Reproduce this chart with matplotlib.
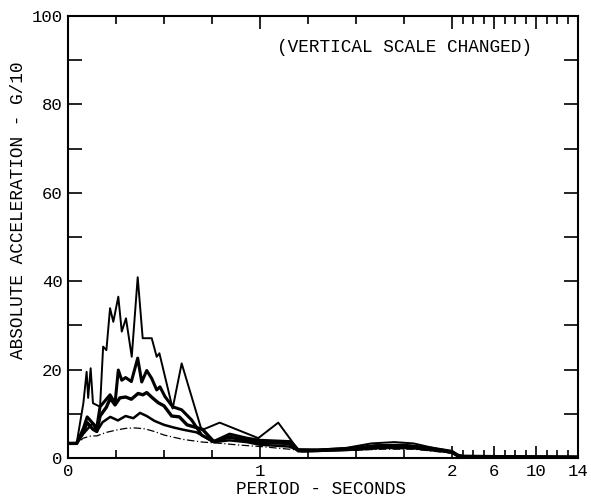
import numpy as np
import matplotlib
matplotlib.use("Agg")
import matplotlib.pyplot as plt
from matplotlib.ticker import FixedLocator, NullFormatter

# ---- data (period in seconds, absolute acceleration in G/10) ----
x_a = [0, 0.045, 0.08, 0.097, 0.105, 0.118, 0.13, 0.167, 0.183, 0.20, 0.219, 0.236, 0.262,
       0.28, 0.302, 0.332, 0.363, 0.389, 0.436, 0.462, 0.476, 0.545, 0.592, 0.696, 0.79,
       0.991, 1.095, 1.196, 1.30, 1.45, 1.58, 1.70, 1.80, 1.92, 2.0, 2.5, 3.0, 4.0, 14.0]
y_a = [3.3, 3.3, 12.4, 19.5, 13.6, 20.3, 12.4, 11.6, 25.2, 24.4, 33.9, 30.8, 36.5,
       28.6, 31.6, 22.9, 40.9, 27.1, 27.1, 22.9, 23.7, 11.2, 21.4, 6.3, 8.0,
       4.5, 8.0, 2.0, 1.9, 2.3, 3.3, 3.6, 3.3, 2.1, 1.5, 0.8, 0.4, 0.2, 0.2]

x_b = [0, 0.045, 0.08, 0.10, 0.13, 0.15, 0.167, 0.219, 0.245, 0.262, 0.28, 0.30, 0.33,
       0.363, 0.384, 0.41, 0.436, 0.462, 0.479, 0.505, 0.545, 0.592, 0.644, 0.696, 0.757,
       0.842, 0.93, 1.0, 1.16, 1.2, 1.3, 1.45, 1.6, 1.75, 1.9, 2.0, 2.5, 3.0, 14.0]
y_b = [3.3, 3.3, 6.7, 9.3, 7.8, 6.9, 11.6, 14.3, 12.4, 19.9, 17.6, 18.2, 17.3,
       22.6, 17.2, 19.8, 18.0, 15.4, 16.1, 13.9, 11.6, 10.9, 8.6, 5.2, 3.7,
       5.4, 4.5, 4.0, 3.7, 1.8, 1.8, 2.1, 2.8, 2.9, 2.2, 1.5, 0.7, 0.3, 0.2]

x_c = [0, 0.045, 0.08, 0.10, 0.13, 0.15, 0.167, 0.20, 0.22, 0.245, 0.27, 0.30, 0.33,
       0.365, 0.39, 0.41, 0.44, 0.47, 0.50, 0.54, 0.58, 0.62, 0.70, 0.76, 0.84, 0.93,
       1.0, 1.15, 1.2, 1.3, 1.5, 1.65, 1.8, 1.95, 2.0, 2.5, 3.0, 14.0]
y_c = [3.3, 3.3, 6.0, 8.0, 6.5, 6.0, 9.5, 11.5, 13.5, 12.0, 13.6, 13.8, 13.3,
       14.6, 14.3, 14.8, 13.6, 12.5, 11.8, 9.5, 9.3, 7.5, 6.5, 3.7, 4.7, 4.0,
       3.5, 3.3, 1.6, 1.7, 2.0, 2.6, 2.6, 1.7, 1.3, 0.6, 0.3, 0.2]

x_d = [0, 0.045, 0.08, 0.10, 0.13, 0.15, 0.18, 0.22, 0.26, 0.30, 0.34, 0.375, 0.41,
       0.45, 0.50, 0.55, 0.60, 0.67, 0.76, 0.84, 0.93, 1.0, 1.15, 1.22, 1.3, 1.5,
       1.65, 1.8, 1.95, 2.0, 2.5, 14.0]
y_d = [3.3, 3.3, 5.5, 6.5, 7.9, 6.0, 8.1, 9.3, 8.5, 9.5, 9.0, 10.2, 9.5,
       8.4, 7.5, 6.9, 6.4, 5.8, 3.6, 4.0, 3.6, 3.0, 2.6, 1.5, 1.6, 1.9,
       2.3, 2.2, 1.5, 1.2, 0.5, 0.2]

x_e = [0, 0.045, 0.08, 0.12, 0.15, 0.20, 0.25, 0.30, 0.35, 0.40, 0.45, 0.50, 0.55,
       0.60, 0.70, 0.80, 0.90, 1.0, 1.1, 1.2, 1.3, 1.5, 1.65, 1.8, 2.0, 2.5, 14.0]
y_e = [3.3, 3.3, 4.5, 5.0, 5.0, 5.8, 6.3, 6.7, 6.8, 6.6, 6.0, 5.2, 4.7,
       4.2, 3.6, 3.3, 2.9, 2.6, 2.2, 1.8, 1.6, 1.8, 2.0, 2.0, 1.1, 0.5, 0.2]

x_major = [0, 1, 2, 6, 10, 14]
x_major_labels = ["0", "1", "2", "6", "10", "14"]
x_minor = [0.25, 0.5, 0.75, 1.25, 1.5, 1.75, 3, 4, 5, 7, 8, 9, 11, 12, 13]
y_major = [0, 20, 40, 60, 80, 100]
y_minor = [10, 30, 50, 70, 90]

# ---- broken-linear period scale: 0-2 s linear, 2-14 s compressed ----
K = 126.0 / 192.0 / 12.0

def fwd(x):
    x = np.asarray(x, dtype=float)
    return np.where(x <= 2, x, 2 + (x - 2) * K)

def inv(u):
    u = np.asarray(u, dtype=float)
    return np.where(u <= 2, u, 2 + (u - 2) / K)

FONT = "Liberation Mono"
plt.rcParams["font.family"] = [FONT, "DejaVu Sans Mono"]

fig = plt.figure(figsize=(5.91, 5.00), dpi=100)
ax = fig.add_axes([68 / 591, 1 - 458 / 500, 510 / 591, 442 / 500])
ax.set_xscale("function", functions=(fwd, inv))
ax.set_xlim(0, 14)
ax.set_ylim(0, 100)

ax.plot(x_e, y_e, color="black", lw=0.9, ls=(0, (6, 2, 1, 2)))
ax.plot(x_d, y_d, color="black", lw=1.8)
ax.plot(x_c, y_c, color="black", lw=2.4)
ax.plot(x_b, y_b, color="black", lw=2.2)
ax.plot(x_a, y_a, color="black", lw=1.4)

ax.xaxis.set_major_locator(FixedLocator(x_major))
ax.set_xticklabels(x_major_labels)
ax.xaxis.set_minor_locator(FixedLocator(x_minor))
ax.xaxis.set_minor_formatter(NullFormatter())
ax.yaxis.set_major_locator(FixedLocator(y_major))
ax.yaxis.set_minor_locator(FixedLocator(y_minor))
ax.yaxis.set_minor_formatter(NullFormatter())

ax.tick_params(axis="both", which="both", direction="in", top=True, right=True,
               color="black", width=1.2, labelsize=12.5)
ax.tick_params(axis="x", which="major", length=9, pad=4)
ax.tick_params(axis="x", which="minor", length=6)
ax.tick_params(axis="y", which="major", length=10, pad=4)
ax.tick_params(axis="y", which="minor", length=10)

for s in ax.spines.values():
    s.set_linewidth(1.5)
    s.set_color("black")

ax.text(0.41, 0.928, "(VERTICAL SCALE CHANGED)", transform=ax.transAxes,
        fontsize=12.8, ha="left", va="center", color="black")

fig.text(19 / 591, 1 - 210 / 500, "ABSOLUTE ACCELERATION - G/10", rotation=90,
         fontsize=12.8, ha="center", va="center", color="black")
fig.text(321 / 591, 1 - 489 / 500, "PERIOD - SECONDS", fontsize=12.8,
         ha="center", va="center", color="black")

fig.savefig("out.png", dpi=100)
